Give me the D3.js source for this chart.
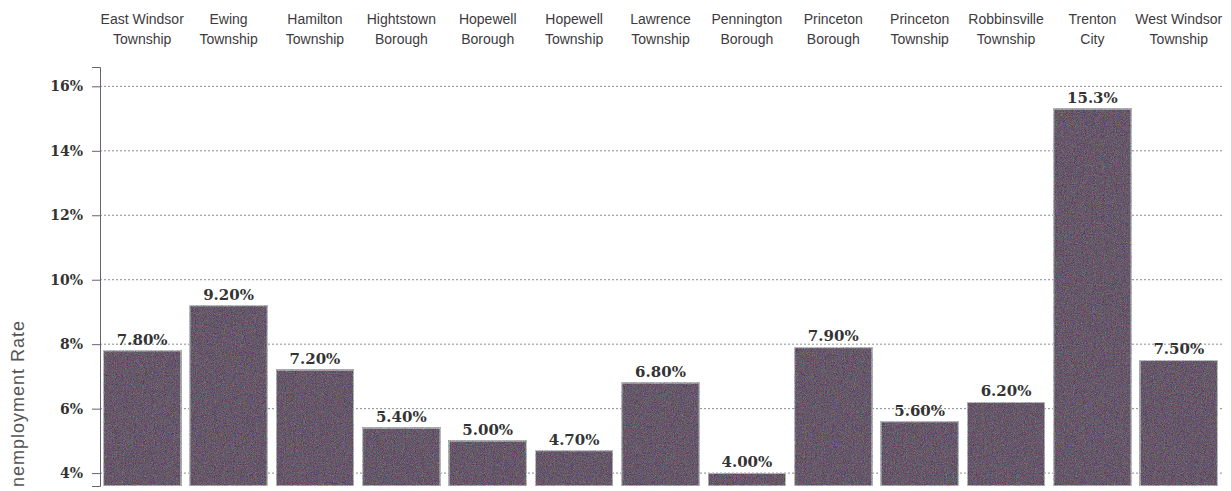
<!DOCTYPE html>
<html>
<head>
<meta charset="utf-8">
<script src="https://cdn.jsdelivr.net/npm/d3@7"></script>
<style>
  html, body { margin: 0; padding: 0; background: #fff; }
  svg { display: block; }
</style>
</head>
<body>
<figure id="bar" style="margin:0"></figure>
<script>
// municipality names, split in two lines as printed
const towns = [
  ["East Windsor", "Township"],
  ["Ewing", "Township"],
  ["Hamilton", "Township"],
  ["Hightstown", "Borough"],
  ["Hopewell", "Borough"],
  ["Hopewell", "Township"],
  ["Lawrence", "Township"],
  ["Pennington", "Borough"],
  ["Princeton", "Borough"],
  ["Princeton", "Township"],
  ["Robbinsville", "Township"],
  ["Trenton", "City"],
  ["West Windsor", "Township"]
];
const rates = [7.8, 9.2, 7.2, 5.4, 5.0, 4.7, 6.8, 4.0, 7.9, 5.6, 6.2, 15.3, 7.5];
const rateLabels = ["7.80%", "9.20%", "7.20%", "5.40%", "5.00%", "4.70%", "6.80%", "4.00%", "7.90%", "5.60%", "6.20%", "15.3%", "7.50%"];
const yTicks = [4, 6, 8, 10, 12, 14, 16];

const width = 1231, height = 491;

const svg = d3.select("figure#bar")
  .append("svg")
  .attr("width", width)
  .attr("height", height);

// grainy print look for the bars (coloured speckle added to the fill)
const defs = svg.append("defs");
const f = defs.append("filter").attr("id", "grain")
  .attr("x", 0).attr("y", 0).attr("width", 1).attr("height", 1)
  .attr("color-interpolation-filters", "sRGB");
f.append("feTurbulence").attr("type", "fractalNoise").attr("baseFrequency", 1.1).attr("numOctaves", 2).attr("seed", 7).attr("result", "noise");
f.append("feColorMatrix").attr("in", "noise").attr("type", "matrix")
  .attr("values", "1 0 0 0 0  0 1 0 0 0  0 0 1 0 0  0 0 0 0 1").attr("result", "opaque");
f.append("feComposite").attr("in", "SourceGraphic").attr("in2", "opaque").attr("operator", "arithmetic")
  .attr("k1", 0).attr("k2", 1).attr("k3", 0.5).attr("k4", -0.25).attr("result", "mix");
f.append("feComposite").attr("in", "mix").attr("in2", "SourceGraphic").attr("operator", "in");

const x = d3.scaleBand()
  .domain(towns.map((d, i) => i))
  .range([99, 1222])
  .paddingInner(0.1)
  .paddingOuter(0.05);

const y = d3.scaleLinear()
  .domain([3.6, 16.6])
  .range([486, 67]);

// dotted gridlines
svg.append("g")
  .selectAll("line")
  .data(yTicks)
  .enter()
  .append("line")
  .attr("x1", 100)
  .attr("x2", 1222)
  .attr("y1", d => y(d))
  .attr("y2", d => y(d))
  .attr("stroke", "#8a8a8a")
  .attr("stroke-width", 1)
  .attr("stroke-dasharray", "2,2");

// y axis
const yAxis = svg.append("g")
  .attr("transform", "translate(100,0)")
  .call(d3.axisLeft(y).tickValues(yTicks).tickSize(8).tickFormat(d => d + "%"));
yAxis.select(".domain").attr("stroke", "#6a6070");
yAxis.selectAll(".tick line").attr("stroke", "#6a6070");
yAxis.selectAll(".tick text")
  .attr("x", -17)
  .attr("fill", "#333")
  .style("font-family", "'DejaVu Serif', serif")
  .style("font-weight", "bold")
  .style("font-size", "14px");

// bars
svg.append("g")
  .selectAll("rect")
  .data(rates)
  .enter()
  .append("rect")
  .attr("x", (d, i) => x(i))
  .attr("y", d => y(d))
  .attr("width", x.bandwidth())
  .attr("height", d => y(3.6) - y(d))
  .attr("fill", "#665769")
  .attr("stroke", "#b4bcbd")
  .attr("stroke-width", 1.5)
  .attr("filter", "url(#grain)");

// value labels
svg.append("g")
  .selectAll("text")
  .data(rates)
  .enter()
  .append("text")
  .attr("x", (d, i) => x(i) + x.bandwidth() / 2)
  .attr("y", d => y(d) - 6)
  .attr("text-anchor", "middle")
  .attr("fill", "#333")
  .style("font-family", "'DejaVu Serif', serif")
  .style("font-weight", "bold")
  .style("font-size", "15px")
  .text((d, i) => rateLabels[i]);

// category labels along the top
const cat = svg.append("g")
  .selectAll("text")
  .data(towns)
  .enter()
  .append("text")
  .attr("text-anchor", "middle")
  .attr("fill", "#3d3a40")
  .style("font-family", "'Liberation Sans', Arial, sans-serif")
  .style("font-size", "14px");
cat.append("tspan")
  .attr("x", (d, i) => x(i) + x.bandwidth() / 2)
  .attr("y", 24)
  .text(d => d[0]);
cat.append("tspan")
  .attr("x", (d, i) => x(i) + x.bandwidth() / 2)
  .attr("y", 44)
  .text(d => d[1]);

// y axis title, its first letter is cut off in the original
svg.append("text")
  .attr("transform", "translate(24,487) rotate(-90)")
  .attr("fill", "#555")
  .attr("textLength", 166)
  .attr("lengthAdjust", "spacing")
  .style("font-family", "'Liberation Sans', Arial, sans-serif")
  .style("font-size", "18px")
  .text("nemployment Rate");
</script>
</body>
</html>
